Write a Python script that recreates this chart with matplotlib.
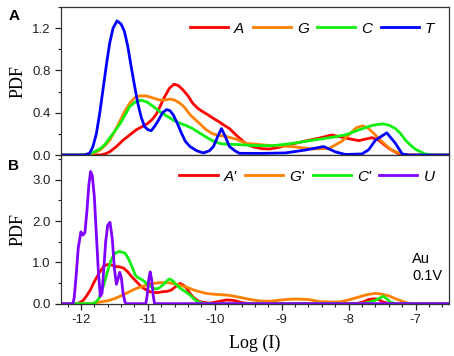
"""
Current histograms (PDF vs log current) for nucleotides on Au at 0.1 V
"""

import matplotlib
matplotlib.use("Agg")
import matplotlib.pyplot as plt
from matplotlib.ticker import MultipleLocator, FormatStrFormatter

# panel A: DNA nucleotides
a_x = [-12.3, -11.71, -11.64, -11.57, -11.47, -11.37, -11.27, -11.17, -11.08, -11.0,
       -10.93, -10.87, -10.81, -10.75, -10.68, -10.61, -10.55, -10.48, -10.40, -10.33,
       -10.25, -10.18, -10.10, -10.03, -9.95, -9.88, -9.78, -9.70, -9.63, -9.54,
       -9.44, -9.3, -9.18, -9.06, -8.94, -8.69, -8.44, -8.25, -8.04, -7.85,
       -7.65, -7.55, -7.40, -7.25, -7.1, -6.5]
a_y = [0, 0, 0.01, 0.03, 0.08, 0.14, 0.19, 0.24, 0.27, 0.30,
       0.34, 0.39, 0.47, 0.55, 0.63, 0.67, 0.66, 0.62, 0.56, 0.49,
       0.44, 0.41, 0.38, 0.35, 0.32, 0.29, 0.25, 0.2, 0.16, 0.11,
       0.08, 0.06, 0.057, 0.07, 0.09, 0.126, 0.16, 0.19, 0.16, 0.136,
       0.164, 0.14, 0.063, 0.01, 0, 0]

g_x = [-12.3, -11.89, -11.8, -11.71, -11.64, -11.57, -11.49, -11.41, -11.34, -11.27,
       -11.20, -11.12, -11.04, -10.97, -10.90, -10.82, -10.75, -10.67, -10.60, -10.52,
       -10.45, -10.38, -10.30, -10.23, -10.13, -10.03, -9.93, -9.83, -9.68, -9.53,
       -9.18, -8.84, -8.54, -8.29, -8.1, -7.95, -7.88, -7.8, -7.72, -7.65,
       -7.5, -7.36, -7.2, -7.05, -6.5]
g_y = [0, 0, 0.02, 0.05, 0.09, 0.14, 0.23, 0.33, 0.42, 0.49,
       0.54, 0.56, 0.56, 0.55, 0.535, 0.52, 0.52, 0.53, 0.52, 0.49,
       0.45, 0.39, 0.34, 0.30, 0.24, 0.20, 0.185, 0.175, 0.15, 0.11,
       0.09, 0.08, 0.057, 0.063, 0.13, 0.22, 0.26, 0.275, 0.26, 0.22,
       0.126, 0.047, 0.006, 0, 0]

c_x = [-12.3, -11.91, -11.8, -11.71, -11.64, -11.57, -11.49, -11.41, -11.34, -11.27,
       -11.19, -11.10, -11.01, -10.92, -10.82, -10.72, -10.62, -10.52, -10.43, -10.33,
       -10.23, -10.13, -10.03, -9.93, -9.8, -9.68, -9.44, -9.13, -8.84, -8.54,
       -8.25, -8.05, -7.85, -7.65, -7.56, -7.48, -7.39, -7.3, -7.22, -7.15,
       -7.07, -7.0, -6.86, -6.75, -6.5]
c_y = [0, 0, 0.03, 0.06, 0.10, 0.16, 0.23, 0.30, 0.38, 0.46,
       0.50, 0.52, 0.50, 0.46, 0.41, 0.37, 0.33, 0.30, 0.28, 0.25,
       0.21, 0.17, 0.135, 0.11, 0.10, 0.10, 0.09, 0.088, 0.11, 0.14,
       0.167, 0.19, 0.237, 0.28, 0.29, 0.294, 0.28, 0.25, 0.20, 0.14,
       0.09, 0.054, 0.01, 0, 0]

t_x = [-12.3, -11.95, -11.87, -11.82, -11.77, -11.72, -11.67, -11.62, -11.57, -11.52,
       -11.46, -11.40, -11.35, -11.30, -11.25, -11.20, -11.15, -11.10, -11.05, -11.00,
       -10.95, -10.90, -10.85, -10.78, -10.72, -10.67, -10.62, -10.56, -10.50, -10.44,
       -10.37, -10.27, -10.17, -10.08, -10.02, -9.96, -9.9, -9.84, -9.78, -9.70,
       -9.63, -9.3, -8.94, -8.65, -8.37, -8.2, -8.05, -7.8, -7.7, -7.6,
       -7.43, -7.3, -7.2, -7.1, -6.5]
t_y = [0, 0, 0.016, 0.08, 0.2, 0.39, 0.62, 0.85, 1.06, 1.2,
       1.27, 1.24, 1.17, 1.03, 0.84, 0.66, 0.49, 0.36, 0.27, 0.24,
       0.23, 0.27, 0.32, 0.40, 0.43, 0.42, 0.38, 0.30, 0.21, 0.13,
       0.08, 0.04, 0.02, 0.04, 0.08, 0.17, 0.25, 0.17, 0.08, 0.04,
       0.016, 0.015, 0.02, 0.047, 0.08, 0.03, 0.005, 0.01, 0.05, 0.14,
       0.21, 0.11, 0.01, 0, 0]

# panel B: RNA nucleotides
a2_x = [-12.3, -12.06, -12.01, -11.96, -11.91, -11.86, -11.81, -11.76, -11.71, -11.66,
        -11.62, -11.58, -11.53, -11.48, -11.42, -11.36, -11.30, -11.24, -11.18, -11.12,
        -11.07, -11.02, -10.97, -10.92, -10.85, -10.77, -10.71, -10.65, -10.58, -10.52,
        -10.47, -10.42, -10.38, -10.33, -10.28, -10.23, -10.08, -9.95, -9.83, -9.72,
        -9.58, -9.45, -7.9, -7.8, -7.7, -7.62, -7.55, -7.5, -7.4, -6.5]
a2_y = [0, 0, 0.03, 0.09, 0.2, 0.33, 0.5, 0.65, 0.79, 0.90,
        0.94, 0.95, 0.93, 0.90, 0.89, 0.86, 0.77, 0.65, 0.55, 0.45,
        0.38, 0.33, 0.29, 0.27, 0.27, 0.29, 0.30, 0.33, 0.42, 0.49,
        0.45, 0.37, 0.27, 0.17, 0.1, 0.05, 0.01, 0.05, 0.09, 0.08,
        0.02, 0, 0, 0.03, 0.1, 0.12, 0.1, 0.05, 0, 0]

g2_x = [-12.3, -11.85, -11.75, -11.60, -11.50, -11.40, -11.30, -11.20, -11.10, -11.02,
        -10.92, -10.82, -10.72, -10.62, -10.52, -10.42, -10.33, -10.23, -10.13, -10.03,
        -9.93, -9.83, -9.75, -9.68, -9.60, -9.53, -9.43, -9.33, -9.23, -9.13,
        -9.03, -8.94, -8.84, -8.74, -8.59, -8.44, -8.29, -8.14, -8.0, -7.85,
        -7.72, -7.6, -7.5, -7.40, -7.3, -7.2, -7.13, -7.06, -6.5]
g2_y = [0, 0, 0.03, 0.07, 0.12, 0.19, 0.27, 0.35, 0.41, 0.45,
        0.49, 0.51, 0.51, 0.49, 0.45, 0.40, 0.34, 0.29, 0.25, 0.23,
        0.22, 0.21, 0.19, 0.17, 0.145, 0.12, 0.09, 0.065, 0.06, 0.065,
        0.085, 0.1, 0.11, 0.11, 0.1, 0.05, 0.04, 0.04, 0.09, 0.16,
        0.22, 0.25, 0.23, 0.19, 0.12, 0.06, 0.02, 0, 0]

c2_x = [-12.3, -11.81, -11.77, -11.73, -11.70, -11.66, -11.62, -11.58, -11.55, -11.51,
        -11.48, -11.44, -11.39, -11.34, -11.30, -11.26, -11.22, -11.19, -11.16, -11.12,
        -11.07, -11.02, -10.97, -10.92, -10.88, -10.84, -10.80, -10.75, -10.71, -10.67,
        -10.62, -10.57, -10.52, -10.47, -10.42, -10.37, -10.32, -10.27, -10.22, -10.18,
        -10.05, -7.8, -7.7, -7.6, -7.54, -7.48, -7.43, -7.38, -7.3, -6.5]
c2_y = [0, 0, 0.05, 0.13, 0.27, 0.45, 0.68, 0.90, 1.05, 1.18,
        1.23, 1.26, 1.25, 1.22, 1.12, 0.98, 0.83, 0.70, 0.64, 0.61,
        0.56, 0.49, 0.43, 0.37, 0.36, 0.37, 0.42, 0.49, 0.56, 0.60,
        0.54, 0.45, 0.38, 0.32, 0.27, 0.21, 0.13, 0.06, 0.03, 0.01,
        0, 0, 0.03, 0.08, 0.13, 0.18, 0.12, 0.04, 0, 0]

u_x = [-12.3, -12.12, -12.10, -12.07, -12.04, -12.00, -11.97, -11.94, -11.91, -11.88,
       -11.855, -11.83, -11.80, -11.77, -11.74, -11.71, -11.685, -11.66, -11.63, -11.60,
       -11.565, -11.53, -11.50, -11.47, -11.445, -11.42, -11.395, -11.37, -11.34, -11.32,
       -11.03, -11.01, -10.985, -10.965, -10.945, -10.92, -10.90, -6.5]
u_y = [0, 0, 0.15, 0.7, 1.35, 1.74, 1.66, 1.72, 2.25, 2.9,
       3.2, 3.1, 2.6, 1.7, 0.8, 0.18, 0.25, 0.8, 1.5, 1.9,
       1.97, 1.55, 0.85, 0.47, 0.6, 0.76, 0.62, 0.25, 0.03, 0,
       0, 0.2, 0.6, 0.77, 0.6, 0.2, 0, 0]

top_series = [(a_x, a_y, "A", "#ff0000"), (g_x, g_y, "G", "#ff8000"),
              (c_x, c_y, "C", "#10f010"), (t_x, t_y, "T", "#0000ff")]
bottom_series = [(a2_x, a2_y, "A'", "#ff0000"), (g2_x, g2_y, "G'", "#ff8000"),
                 (c2_x, c2_y, "C'", "#10f010"), (u_x, u_y, "U", "#8000ff")]

SANS = "Liberation Sans"
SERIF = "Liberation Serif"


def style_axis(ax, ymax, ymajor, yminor):
    """
    Apply the Origin-like look to one panel
    :param ax: axis to style
    :param ymax: upper y limit
    :param ymajor: major y tick step
    :param yminor: minor y tick step
    """
    ax.set_xlim(-12.3, -6.5)
    ax.set_ylim(0, ymax)
    ax.xaxis.set_major_locator(MultipleLocator(1))
    ax.xaxis.set_minor_locator(MultipleLocator(0.2))
    ax.yaxis.set_major_locator(MultipleLocator(ymajor))
    ax.yaxis.set_minor_locator(MultipleLocator(yminor))
    ax.yaxis.set_major_formatter(FormatStrFormatter("%.1f"))
    ax.tick_params(which="major", direction="out", length=4, width=0.9, labelsize=9.5,
                   colors="#222222")
    ax.tick_params(which="minor", direction="out", length=2.5, width=0.8, colors="#222222")
    for lbl in ax.get_xticklabels() + ax.get_yticklabels():
        lbl.set_family(SANS)
    for sp in ax.spines.values():
        sp.set_linewidth(0.9)
        sp.set_color("#333333")
    ax.set_ylabel("PDF", family=SERIF, fontsize=13, labelpad=4)


fig = plt.figure(figsize=(4.54, 3.56), dpi=100)
ax1 = fig.add_axes([0.134, 0.5646, 0.855, 0.4154])
ax2 = fig.add_axes([0.134, 0.147, 0.855, 0.4176])

for xs, ys, name, col in top_series:
    ax1.plot(xs, ys, color=col, lw=2, label=name, solid_joinstyle="round")
for xs, ys, name, col in bottom_series:
    ax2.plot(xs, ys, color=col, lw=2, label=name, solid_joinstyle="round")

style_axis(ax1, 1.4, 0.4, 0.2)
style_axis(ax2, 3.6, 1.0, 0.5)
ax1.tick_params(axis="x", labelbottom=False)
ax2.set_xticks([-12, -11, -10, -9, -8, -7])
ax2.set_xticklabels(["-12", "-11", "-10", "-9", "-8", "-7"], family=SANS)
ax2.set_xlabel("Log (I)", family=SERIF, fontsize=13, labelpad=6)

for ax in (ax1, ax2):
    ax.legend(loc="upper right", ncol=4, frameon=False, handlelength=2.5,
              handletextpad=0.4, columnspacing=0.55, borderaxespad=0.55,
              prop={"family": SANS, "style": "italic", "size": 11})

ax2.text(0.905, 0.245, "Au\n0.1V", transform=ax2.transAxes, family=SANS, fontsize=10.5,
         ha="left", va="center", linespacing=1.3)

fig.text(0.02, 0.944, "A", family=SANS, fontweight="bold", fontsize=11)
fig.text(0.018, 0.522, "B", family=SANS, fontweight="bold", fontsize=11)

fig.savefig("out.png", dpi=100)
